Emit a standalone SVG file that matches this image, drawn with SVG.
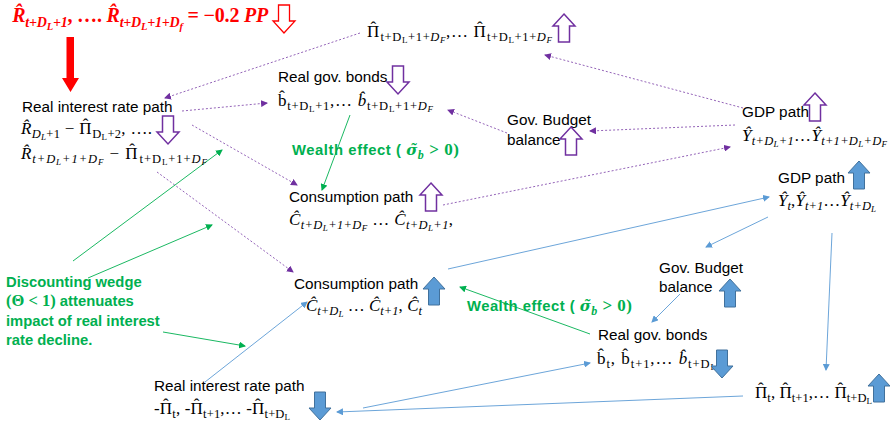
<svg xmlns="http://www.w3.org/2000/svg" width="890" height="425" viewBox="0 0 890 425">
<style>
.lbl{font-family:"Liberation Sans",Arial,sans-serif;font-size:15.3px;fill:#000}
.m{font-family:"Liberation Serif","DejaVu Serif",serif;font-size:17px;fill:#000}
.i{font-style:italic}
.s{font-size:12.5px}
.ss{font-size:9px}
.red{font-family:"Liberation Serif","DejaVu Serif",serif;font-size:20px;font-weight:bold;fill:#FF0000}
.grn{font-family:"Liberation Sans",Arial,sans-serif;font-size:14.8px;font-weight:bold;fill:#00B050}
.gm{font-family:"Liberation Serif","DejaVu Serif",serif;font-weight:bold}
.pa{fill:#fff;stroke:#7030A0;stroke-width:1.5}
.ba{fill:#5B9BD5;stroke:#41719C;stroke-width:1}
.cp{fill:none;stroke:#7030A0;stroke-opacity:0.75;stroke-width:1;stroke-dasharray:2 2;marker-end:url(#mp)}
.cb{fill:none;stroke:#5B9BD5;stroke-width:0.9;marker-end:url(#mb)}
.cg{fill:none;stroke:#00B050;stroke-width:0.9;marker-end:url(#mg)}
</style>
<defs>
<path id="dn" d="M5.5,0 H16.5 V16 H22 L11,28 L0,16 H5.5 Z"/>
<path id="up" d="M11,0 L22,12 H16.5 V28 H5.5 V12 H0 Z"/>
<marker id="mp" markerWidth="7" markerHeight="7" refX="6" refY="3.5" orient="auto" markerUnits="userSpaceOnUse"><path d="M0,0 L7,3.5 L0,7 Z" fill="#7030A0"/></marker>
<marker id="mb" markerWidth="7" markerHeight="7" refX="6" refY="3.5" orient="auto" markerUnits="userSpaceOnUse"><path d="M0,0 L7,3.5 L0,7 Z" fill="#5B9BD5"/></marker>
<marker id="mg" markerWidth="7" markerHeight="7" refX="6" refY="3.5" orient="auto" markerUnits="userSpaceOnUse"><path d="M0,0 L7,3.5 L0,7 Z" fill="#00B050"/></marker>
</defs>
<rect width="890" height="425" fill="#fff"/>

<g id="connectors">
<line class="cp" x1="360" y1="33" x2="165" y2="98"/>
<line class="cp" x1="182" y1="111" x2="267" y2="103"/>
<line class="cp" x1="192" y1="125" x2="297" y2="185"/>
<line class="cp" x1="157" y1="172" x2="293" y2="272"/>
<line class="cp" x1="507" y1="133" x2="448" y2="110"/>
<line class="cp" x1="735" y1="125" x2="590" y2="131"/>
<line class="cp" x1="443" y1="205" x2="730" y2="147"/>
<line class="cp" x1="743" y1="108" x2="545" y2="55"/>
<line class="cg" x1="350" y1="115" x2="322" y2="190"/>
<line class="cg" x1="73" y1="261" x2="222" y2="150"/>
<line class="cg" x1="88" y1="278" x2="212" y2="225"/>
<line class="cg" x1="163" y1="332" x2="245" y2="346"/>
<line class="cg" x1="590" y1="334" x2="460" y2="287"/>
<line class="cb" x1="205" y1="382" x2="307" y2="302"/>
<line class="cb" x1="448" y1="269" x2="769" y2="197"/>
<line class="cb" x1="768" y1="217" x2="706" y2="247"/>
<line class="cb" x1="680" y1="294" x2="652" y2="322"/>
<line class="cb" x1="832" y1="233" x2="826" y2="370"/>
<line class="cb" x1="363" y1="408" x2="590" y2="363"/>
<line class="cb" x1="743" y1="396" x2="337" y2="412"/>
</g>

<g id="shock">
<text class="red" x="12" y="22" textLength="256" lengthAdjust="spacing"><tspan class="i">R&#x302;</tspan><tspan class="i" font-size="14" dy="5">t+D</tspan><tspan class="i" font-size="10.5" dy="3">L</tspan><tspan class="i" font-size="14" dy="-3">+1</tspan><tspan dy="-5">, …. </tspan><tspan class="i">R&#x302;</tspan><tspan class="i" font-size="14" dy="5">t+D</tspan><tspan class="i" font-size="10.5" dy="3">L</tspan><tspan class="i" font-size="14" dy="-3">+1+D</tspan><tspan class="i" font-size="10.5" dy="3">f</tspan><tspan dy="-8"> = −0.2 </tspan><tspan class="i">PP</tspan></text>
<use href="#dn" x="273" y="5" fill="#fff" stroke="#FF0000" stroke-width="1.3"/>
<path d="M66.5,37 H74 V78 H79 L70.5,92 L62,78 H66.5 Z" fill="#FF0000"/>
</g>

<g id="rir-upper">
<text class="lbl" x="22" y="112">Real interest rate path</text>
<text class="m" x="21" y="134" textLength="131" lengthAdjust="spacing"><tspan class="i">R&#x302;</tspan><tspan class="s i" dy="4">D</tspan><tspan class="ss i" dy="2">L</tspan><tspan class="s" dy="-2">+1</tspan><tspan dy="-4"> − Π</tspan><tspan dx="-9.3" dy="-4">ˆ</tspan><tspan class="s" dx="3.6" dy="8">D</tspan><tspan class="ss" dy="2">L</tspan><tspan class="s" dy="-2">+2</tspan><tspan dy="-4">, ….</tspan></text>
<text class="m" x="21" y="159" textLength="186" lengthAdjust="spacing"><tspan class="i">R&#x302;</tspan><tspan class="s i" dy="4">t+D</tspan><tspan class="ss i" dy="2">L</tspan><tspan class="s i" dy="-2">+1+D</tspan><tspan class="ss i" dy="2">F</tspan><tspan dy="-6"> − Π</tspan><tspan dx="-9.3" dy="-4">ˆ</tspan><tspan class="s" dx="3.6" dy="8">t+D</tspan><tspan class="ss" dy="2">L</tspan><tspan class="s" dy="-2">+1+</tspan><tspan class="s i">D</tspan><tspan class="ss i" dy="2">F</tspan></text>
<use href="#dn" x="157" y="116" class="pa"/>
</g>

<g id="infl-upper">
<text class="m" x="367" y="37" textLength="185" lengthAdjust="spacing"><tspan>Π</tspan><tspan dx="-9.3" dy="-4">ˆ</tspan><tspan class="s" dx="3.6" dy="8">t+D</tspan><tspan class="ss" dy="2">L</tspan><tspan class="s" dy="-2">+1+</tspan><tspan class="s i">D</tspan><tspan class="ss i" dy="2">F</tspan><tspan dy="-6">,… Π</tspan><tspan dx="-9.3" dy="-4">ˆ</tspan><tspan class="s" dx="3.6" dy="8">t+D</tspan><tspan class="ss" dy="2">L</tspan><tspan class="s" dy="-2">+1+</tspan><tspan class="s i">D</tspan><tspan class="ss i" dy="2">F</tspan></text>
<use href="#up" x="553" y="14" class="pa"/>
</g>

<g id="bonds-upper">
<text class="lbl" x="278" y="82">Real gov. bonds</text>
<text class="m" x="278" y="106" textLength="155" lengthAdjust="spacing"><tspan>b&#x302;</tspan><tspan class="s" dy="4">t+D</tspan><tspan class="ss" dy="2">L</tspan><tspan class="s" dy="-2">+1</tspan><tspan dy="-4">,… </tspan><tspan class="i">b&#x302;</tspan><tspan class="s" dy="4">t+D</tspan><tspan class="ss" dy="2">L</tspan><tspan class="s" dy="-2">+1+</tspan><tspan class="s i">D</tspan><tspan class="ss i" dy="2">F</tspan></text>
<use href="#dn" x="387" y="66" class="pa"/>
</g>

<g id="budget-upper">
<text class="lbl" x="507" y="125">Gov. Budget</text>
<text class="lbl" x="507" y="145">balance</text>
<use href="#up" x="560" y="127" class="pa"/>
</g>

<g id="gdp-upper">
<text class="lbl" x="742" y="117">GDP path</text>
<text class="m" x="742" y="141" textLength="145" lengthAdjust="spacing"><tspan class="i">Ŷ</tspan><tspan class="s i" dy="4">t+D</tspan><tspan class="ss i" dy="2">L</tspan><tspan class="s i" dy="-2">+1</tspan><tspan dy="-4">…</tspan><tspan class="i">Ŷ</tspan><tspan class="s i" dy="4">t+1+D</tspan><tspan class="ss i" dy="2">L</tspan><tspan class="s i" dy="-2">+D</tspan><tspan class="ss i" dy="2">F</tspan></text>
<use href="#up" x="804" y="93" class="pa"/>
</g>

<g id="wealth-upper">
<text class="grn" x="292" y="155" textLength="167" lengthAdjust="spacing">Wealth effect ( <tspan class="i" font-family="DejaVu Serif" font-weight="bold" font-size="15">σ&#x303;</tspan><tspan class="gm i" font-size="12" dy="4">b</tspan><tspan class="gm" font-size="17" dy="-4"> &gt; 0)</tspan></text>
</g>

<g id="cons-upper">
<text class="lbl" x="289" y="202">Consumption path</text>
<text class="m" x="289" y="225" textLength="164" lengthAdjust="spacing"><tspan class="i">Ĉ</tspan><tspan class="s i" dy="4">t+D</tspan><tspan class="ss i" dy="2">L</tspan><tspan class="s i" dy="-2">+1+D</tspan><tspan class="ss i" dy="2">F</tspan><tspan dy="-6"> … </tspan><tspan class="i">Ĉ</tspan><tspan class="s i" dy="4">t+D</tspan><tspan class="ss i" dy="2">L</tspan><tspan class="s i" dy="-2">+1</tspan><tspan dy="-4">,</tspan></text>
<use href="#up" x="420" y="183" class="pa"/>
</g>

<g id="discount-note">
<text class="grn" x="6" y="287">Discounting wedge</text>
<text class="grn" x="6" y="306"><tspan class="gm" font-size="16.5">(Θ &lt; 1)</tspan> attenuates</text>
<text class="grn" x="6" y="326">impact of real interest</text>
<text class="grn" x="6" y="345">rate decline.</text>
</g>

<g id="gdp-lower">
<text class="lbl" x="778" y="183">GDP path</text>
<text class="m" x="778" y="206" textLength="98" lengthAdjust="spacing"><tspan class="i">Ŷ</tspan><tspan class="s i" dy="4">t</tspan><tspan dy="-4">,</tspan><tspan class="i">Ŷ</tspan><tspan class="s i" dy="4">t+1</tspan><tspan dy="-4">…</tspan><tspan class="i">Ŷ</tspan><tspan class="s i" dy="4">t+D</tspan><tspan class="ss i" dy="2">L</tspan></text>
<use href="#up" x="848" y="161" class="ba"/>
</g>

<g id="budget-lower">
<text class="lbl" x="659" y="273">Gov. Budget</text>
<text class="lbl" x="659" y="292">balance</text>
<use href="#up" x="719" y="279" class="ba"/>
</g>

<g id="cons-lower">
<text class="lbl" x="294" y="289">Consumption path</text>
<text class="m" x="306" y="311" textLength="116" lengthAdjust="spacing"><tspan class="i">Ĉ</tspan><tspan class="s i" dy="4">t+D</tspan><tspan class="ss i" dy="2">L</tspan><tspan dy="-6"> … </tspan><tspan class="i">Ĉ</tspan><tspan class="s i" dy="4">t+1</tspan><tspan dy="-4">, </tspan><tspan class="i">Ĉ</tspan><tspan class="s i" dy="4">t</tspan></text>
<use href="#up" x="423" y="277" class="ba"/>
</g>

<g id="wealth-lower">
<text class="grn" x="467" y="311" textLength="165" lengthAdjust="spacing">Wealth effect ( <tspan class="i" font-family="DejaVu Serif" font-weight="bold" font-size="15">σ&#x303;</tspan><tspan class="gm i" font-size="12" dy="4">b</tspan><tspan class="gm" font-size="17" dy="-4"> &gt; 0)</tspan></text>
</g>

<g id="bonds-lower">
<text class="lbl" x="598" y="340">Real gov. bonds</text>
<text class="m" x="597" y="364" textLength="119" lengthAdjust="spacing"><tspan>b&#x302;</tspan><tspan class="s" dy="4">t</tspan><tspan dy="-4">, b&#x302;</tspan><tspan class="s" dy="4">t+1</tspan><tspan dy="-4">,… </tspan><tspan class="i">b&#x302;</tspan><tspan class="s" dy="4">t+D</tspan><tspan class="ss" dy="2">L</tspan></text>
<use href="#dn" x="711" y="350" class="ba"/>
</g>

<g id="infl-lower">
<text class="m" x="755" y="398" textLength="117" lengthAdjust="spacing"><tspan>Π</tspan><tspan dx="-9.3" dy="-4">ˆ</tspan><tspan class="s" dx="3.6" dy="8">t</tspan><tspan dy="-4">, Π</tspan><tspan dx="-9.3" dy="-4">ˆ</tspan><tspan class="s" dx="3.6" dy="8">t+1</tspan><tspan dy="-4">,… Π</tspan><tspan dx="-9.3" dy="-4">ˆ</tspan><tspan class="s" dx="3.6" dy="8">t+D</tspan><tspan class="ss" dy="2">L</tspan></text>
<use href="#up" x="868" y="374" class="ba"/>
</g>

<g id="rir-lower">
<text class="lbl" x="154" y="391">Real interest rate path</text>
<text class="m" x="154" y="414" textLength="136" lengthAdjust="spacing"><tspan>-Π</tspan><tspan dx="-9.3" dy="-4">ˆ</tspan><tspan class="s" dx="3.6" dy="8">t</tspan><tspan dy="-4">, -Π</tspan><tspan dx="-9.3" dy="-4">ˆ</tspan><tspan class="s" dx="3.6" dy="8">t+1</tspan><tspan dy="-4">,… -Π</tspan><tspan dx="-9.3" dy="-4">ˆ</tspan><tspan class="s" dx="3.6" dy="8">t+D</tspan><tspan class="ss" dy="2">L</tspan></text>
<use href="#dn" x="309" y="392" class="ba"/>
</g>
</svg>
